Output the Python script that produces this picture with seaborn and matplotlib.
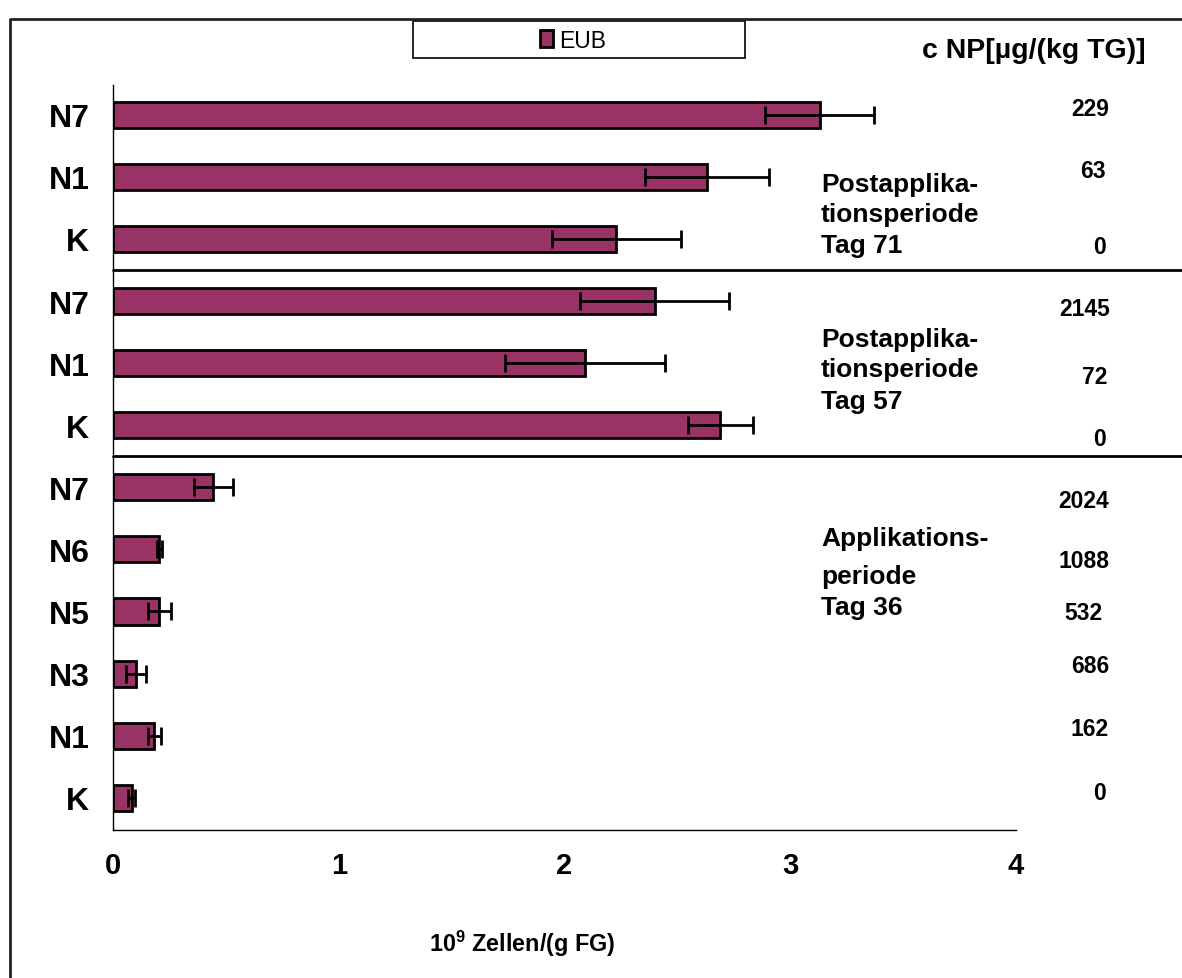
import matplotlib
matplotlib.use("Agg")
import matplotlib.pyplot as plt
import matplotlib.transforms as mtransforms
from matplotlib.patches import Patch, Rectangle
from matplotlib.lines import Line2D
import numpy as np
import pandas as pd
import seaborn as sns

# --- data -------------------------------------------------------------------
variants = ["N7", "N1", "K", "N7", "N1", "K", "N7", "N6", "N5", "N3", "N1", "K"]
periods = ["Tag 71"] * 3 + ["Tag 57"] * 3 + ["Tag 36"] * 6
eub_cells = [3.13, 2.63, 2.23, 2.40, 2.09, 2.69, 0.445, 0.205, 0.205, 0.102, 0.183, 0.082]
eub_err = [0.24, 0.275, 0.285, 0.33, 0.355, 0.145, 0.085, 0.012, 0.052, 0.043, 0.030, 0.015]
np_conc = ["229", "63", "0", "2145", "72", "0", "2024", "1088", "532", "686", "162", "0"]
period_lines = [["Postapplika-", "tionsperiode", "Tag 71"],
                ["Postapplika-", "tionsperiode", "Tag 57"],
                ["Applikations-", "periode", "Tag 36"]]
x_ticks = [0, 1, 2, 3, 4]

# --- style ------------------------------------------------------------------
sns.set_style("white")
plt.rcParams["font.family"] = ["Liberation Sans", "DejaVu Sans"]
plt.rcParams["mathtext.fontset"] = "custom"
plt.rcParams["mathtext.bf"] = "Liberation Sans:bold"
plt.rcParams["mathtext.rm"] = "Liberation Sans"
for key in ["text.color", "axes.labelcolor", "xtick.color", "ytick.color"]:
    plt.rcParams[key] = "black"

BAR = "#993366"
W, H = 1182, 979
fig = plt.figure(figsize=(W / 100, H / 100), dpi=100)
ax = fig.add_axes([113 / W, 1 - 831 / H, (1016 - 113) / W, (831 - 86) / H])

rows = [f"{p}|{v}|{i}" for i, (p, v) in enumerate(zip(periods, variants))]
df = pd.DataFrame({"row": rows, "cells": eub_cells, "err": eub_err})

sns.barplot(data=df, x="cells", y="row", order=rows, orient="h",
            color=BAR, saturation=1, edgecolor="black", linewidth=2,
            width=0.42, errorbar=None, ax=ax)

# error bars at the bar ends, positioned from the drawn bars
for patch, val, err in zip(ax.patches, eub_cells, eub_err):
    yc = patch.get_y() + patch.get_height() / 2
    ax.errorbar(val, yc, xerr=err, fmt="none", ecolor="black",
                elinewidth=2, capsize=6.5, capthick=2, zorder=5)

ax.set_xlim(0, 4)
ax.set_ylim(11.52, -0.48)
ax.set_xticks(x_ticks)
ax.set_xticklabels([str(t) for t in x_ticks], fontsize=21, fontweight="bold")
ax.set_yticks(range(len(rows)))
ax.set_yticklabels(variants, fontsize=23, fontweight="bold")
ax.tick_params(axis="x", length=6.5, width=1, direction="out", pad=8.5)
ax.tick_params(axis="y", length=0, pad=17)
ax.set_xlabel("")
ax.set_ylabel("")
for side in ["top", "right"]:
    ax.spines[side].set_visible(False)
for side in ["left", "bottom"]:
    ax.spines[side].set_color("black")
    ax.spines[side].set_linewidth(1)

fig.text(522 / W, 1 - 952 / H, r"10$^{\mathbf{9}}$ Zellen/(g FG)",
         ha="center", va="baseline", fontsize=16.8, fontweight="bold")

# separators between the sampling dates
sep_tr = mtransforms.blended_transform_factory(fig.transFigure, ax.transData)
for ysep in [2.5, 5.5]:
    fig.add_artist(Line2D([113 / W, 1.0], [ysep, ysep], transform=sep_tr,
                          color="black", lw=2))

# period annotations, one line at a time
baselines = [[192, 222, 253], [347, 377, 409], [546, 584, 615]]
for lines, bases in zip(period_lines, baselines):
    for line, yb in zip(lines, bases):
        fig.text(821 / W, 1 - yb / H, line, ha="left", va="baseline",
                 fontsize=19, fontweight="bold")

# NP concentration column
conc_pos = [(1090, 116), (1093, 178), (1099, 254), (1085, 316), (1095, 384),
            (1099, 446), (1084, 508), (1084, 568), (1083, 620), (1090, 673),
            (1090, 736), (1099, 800)]
for txt, (xp, yp) in zip(np_conc, conc_pos):
    fig.text(xp / W, 1 - yp / H, txt, ha="center", va="baseline",
             fontsize=16.5, fontweight="bold")

fig.text(1034 / W, 1 - 51 / H, "c NP[µg/(kg TG)]", ha="center", va="center",
         fontsize=20.5, fontweight="bold")

# legend box
fig.add_artist(Rectangle((413 / W, 1 - 59 / H), (745 - 413) / W, 37 / H,
                         transform=fig.transFigure, fill=False,
                         edgecolor="black", lw=1.2))
fig.legend(handles=[Patch(facecolor=BAR, edgecolor="black", linewidth=2)],
           labels=["EUB"], loc="center", bbox_to_anchor=(573 / W, 1 - 41 / H),
           frameon=False, fontsize=16.5, handlelength=0.55, handleheight=0.75,
           handletextpad=0.25, borderaxespad=0)

# outer frame (left and top edges)
fig.add_artist(Line2D([10 / W, 10 / W, 1.0], [0.0, 1 - 20 / H, 1 - 20 / H],
                      transform=fig.transFigure, color="#222222", lw=2))

fig.savefig("out.png", dpi=100)
